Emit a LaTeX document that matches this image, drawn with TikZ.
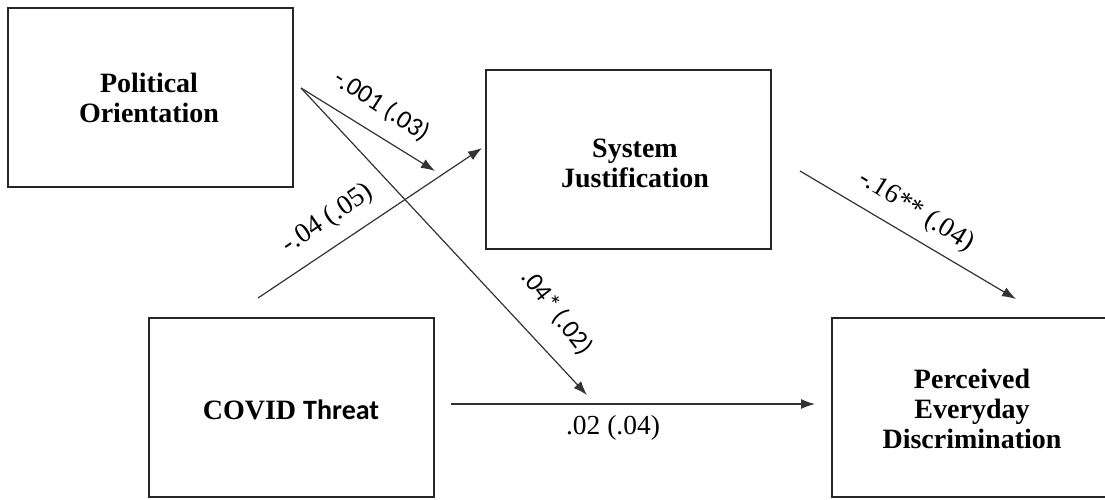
\documentclass[tikz,border=0pt]{standalone}
\usepackage{fontspec}
\setmainfont{Liberation Serif}
\newfontfamily\calfont{Carlito}
\usetikzlibrary{arrows.meta}
\begin{document}
\begin{tikzpicture}[x=1pt,y=-1pt,
  varbox/.style={draw=black!85, line width=2pt, minimum width=285pt, minimum height=179pt, inner sep=0pt},
  title/.style={font=\fontsize{28}{30}\selectfont\bfseries, align=center},
  path/.style={draw=black!80, line width=1.2pt, -{Latex[length=14pt,width=10pt]}},
  serlab/.style={font=\fontsize{27.5}{28}\selectfont, inner sep=0pt},
  sanlab/.style={font=\calfont\fontsize{26}{28}\selectfont, inner sep=0pt}]
\useasboundingbox (0,0) rectangle (1105,499);
% boxes
\node[varbox] (po) at (150.5,97.5) {};
\node[varbox] (sj) at (628.5,159.5) {};
\node[varbox] (ct) at (291.5,407.5) {};
\node[varbox, minimum width=280pt] (pd) at (972,407.5) {};
% titles
\node[title] (tpo) at (149,98) {Political\\Orientation};
\node[title] (tsj) at (635,163) {System\\Justification};
\node[title] (tct) at (291,410) {COVID {\calfont Threat}};
\node[title] (tpd) at (972,409) {Perceived\\Everyday\\Discrimination};
% arrow endpoints
\coordinate (a1s) at (301,88);
\coordinate (a1e) at (435,171);
\coordinate (a2e) at (587,395);
\coordinate (a3s) at (258,298);
\coordinate (a3e) at (482,148);
\coordinate (a4s) at (800,171);
\coordinate (a4e) at (1016,299);
\coordinate (a5s) at (451,404);
\coordinate (a5e) at (815,404);
\draw[path] (a1s) -- (a1e);
\draw[path] (a1s) -- (a2e);
\draw[path] (a3s) -- (a3e);
\draw[path] (a4s) -- (a4e);
\draw[path] (a5s) -- (a5e);
% labels
\node[sanlab, rotate=-33] (l1) at (382,106) {-.001 (.03)};
\node[sanlab, rotate=-52] (l2) at (557,312) {.04* (.02)};
\node[serlab, rotate=34] (l3) at (328,219) {-.04 (.05)};
\node[serlab, rotate=-32] (l4) at (916,211) {-.16** (.04)};
\node[serlab] (l5) at (613,428) {.02 (.04)};
\end{tikzpicture}
\end{document}
